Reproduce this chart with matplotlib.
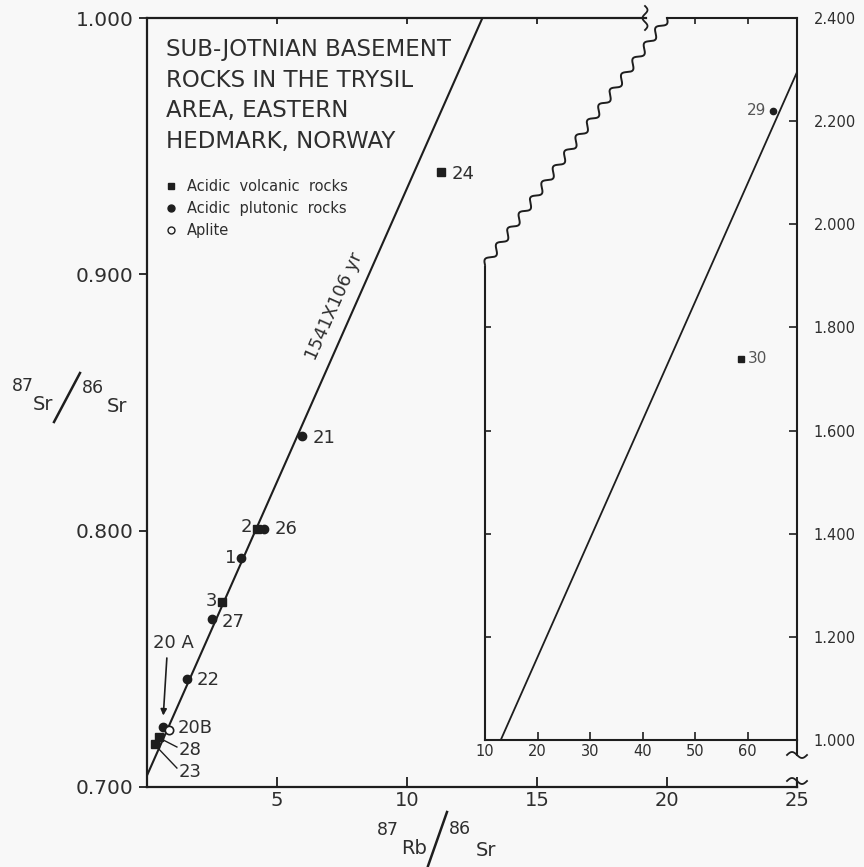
import numpy as np
import matplotlib.pyplot as plt
from matplotlib.lines import Line2D

plt.rcParams['font.family'] = ['DejaVu Sans']

# sample data (87Rb/86Sr, 87Sr/86Sr)
volc_id = ['24', '2', '3', '28', '23']
volc_x = [11.31, 4.23, 2.88, 0.46, 0.31]
volc_y = [0.940, 0.8008, 0.772, 0.7195, 0.7167]

plut_id = ['21', '26', '1', '27', '22', '20A']
plut_x = [5.96, 4.50, 3.62, 2.50, 1.54, 0.62]
plut_y = [0.837, 0.8008, 0.7895, 0.7654, 0.742, 0.7233]

aplite_id = ['20B']
aplite_x = [0.85]
aplite_y = [0.7222]

# high Rb/Sr samples shown in the inset
inset_plut_x = [64.9]
inset_plut_y = [2.220]
inset_volc_x = [58.8]
inset_volc_y = [1.739]

# isochron endpoints
iso_x = [0.0, 12.9]
iso_y = [0.7045, 1.0]
iso_in_x = [13.0, 69.4]
iso_in_y = [1.0, 2.295]

main_xticks = [5, 10, 15, 20, 25]
main_yticks = [0.700, 0.800, 0.900, 1.000]
inset_xticks = [10, 20, 30, 40, 50, 60]
inset_yticks = [1.0, 1.2, 1.4, 1.6, 1.8, 2.0, 2.2, 2.4]

title = "SUB-JOTNIAN BASEMENT\nROCKS IN THE TRYSIL\nAREA, EASTERN\nHEDMARK, NORWAY"

ink = '#1e1e1e'
txt = '#2e2e2e'
W, H = 864, 867

fig = plt.figure(figsize=(W / 100, H / 100), dpi=100, facecolor='#f8f8f8')

# full-figure pixel canvas for decorations
deco = fig.add_axes([0, 0, 1, 1], zorder=0)
deco.set_xlim(0, W)
deco.set_ylim(H, 0)
deco.axis('off')

L, R, T, B = 147, 797, 18, 787
ax = fig.add_axes([L / W, 1 - B / H, (R - L) / W, (B - T) / H], zorder=1)
ax.patch.set_alpha(0)
ax.set_xlim(0, 25)
ax.set_ylim(0.7, 1.0)
ax.set_xticks(main_xticks)
ax.set_xticklabels([str(v) for v in main_xticks])
ax.set_yticks(main_yticks)
ax.set_yticklabels(['%.3f' % v for v in main_yticks])
ax.tick_params(axis='x', direction='in', length=7, width=1.3, labelsize=14,
               pad=3, color=ink, labelcolor=txt)
ax.tick_params(axis='y', direction='out', length=6, width=1.3, labelsize=14.5,
               pad=3.5, color=ink, labelcolor=txt)
for s in ['left', 'bottom', 'top']:
    ax.spines[s].set_linewidth(1.6)
    ax.spines[s].set_color(ink)
ax.spines['right'].set_visible(False)
ax.spines['top'].set_bounds(0, 19.2)
ax.vlines([5, 10, 15], 0.9975, 1.0, color=ink, lw=1.3)

ax.plot(iso_x, iso_y, color=ink, lw=1.5)
ax.plot(volc_x, volc_y, 's', color=ink, ms=6, ls='none')
ax.plot(plut_x, plut_y, 'o', color=ink, ms=6, ls='none')
ax.plot(aplite_x, aplite_y, 'o', mfc='white', mec=ink, mew=1.2, ms=6, ls='none')

labels = [('24', 11.73, 0.9393, 'left'), ('21', 6.38, 0.8362, 'left'),
          ('2', 4.04, 0.8016, 'right'), ('26', 4.92, 0.8008, 'left'),
          ('1', 3.42, 0.7895, 'right'), ('3', 2.69, 0.7724, 'right'),
          ('27', 2.88, 0.7642, 'left'), ('22', 1.92, 0.7416, 'left'),
          ('20B', 1.19, 0.723, 'left'), ('28', 1.23, 0.7144, 'left'),
          ('23', 1.23, 0.7058, 'left')]
for s, x, y, ha in labels:
    ax.text(x, y, s, ha=ha, va='center', fontsize=13, color=txt)
ax.text(1.0, 0.756, '20 A', ha='center', va='center', fontsize=13, color=txt)
ax.annotate('', xy=(0.62, 0.7268), xytext=(0.77, 0.7514),
            arrowprops=dict(arrowstyle='-|>', lw=1.2, color=ink, mutation_scale=9))
ax.plot([1.15, 0.50], [0.7156, 0.7190], color=ink, lw=1.0)
ax.plot([1.15, 0.42], [0.7074, 0.7152], color=ink, lw=1.0)

ax.text(7.2, 0.8876, '1541X106 yr', rotation=66, rotation_mode='anchor',
        ha='center', va='center', fontsize=13, color=txt)

deco.text(166, 38, title, ha='left', va='top', fontsize=16.5, color=txt,
          linespacing=1.42)

handles = [Line2D([], [], marker='s', ls='none', color=ink, ms=5),
           Line2D([], [], marker='o', ls='none', color=ink, ms=5),
           Line2D([], [], marker='o', ls='none', mfc='none', mec=ink, ms=5)]
ax.legend(handles, ['Acidic  volcanic  rocks', 'Acidic  plutonic  rocks', 'Aplite'],
          loc='upper left', bbox_to_anchor=(0.03, 0.791), frameon=False,
          fontsize=10.5, handlelength=0.6, handletextpad=0.8, labelspacing=0.5,
          borderaxespad=0, borderpad=0, labelcolor=txt)

# inset
IL, IT, IB = 485, 18, 740
ax_in = fig.add_axes([IL / W, 1 - IB / H, (R - IL) / W, (IB - IT) / H], zorder=2)
ax_in.patch.set_alpha(0)
ax_in.set_xlim(10, 69.4)
ax_in.set_ylim(1.0, 2.4)
ax_in.set_xticks(inset_xticks)
ax_in.set_yticks(inset_yticks)
ax_in.set_yticklabels(['%.3f' % v for v in inset_yticks])
ax_in.tick_params(axis='x', direction='in', length=6, width=1.2, labelsize=10.5,
                  pad=3, color=ink, labelcolor=txt)
ax_in.tick_params(axis='y', left=False, right=True, labelleft=False, labelright=True,
                  direction='in', length=6, width=1.2, labelsize=10.5, pad=12,
                  color=ink, labelcolor=txt)
for s in ax_in.spines:
    ax_in.spines[s].set_linewidth(1.5)
    ax_in.spines[s].set_color(ink)
ax_in.spines['left'].set_bounds(1.0, 1.917)
ax_in.spines['top'].set_bounds(44.7, 69.4)
ax_in.hlines([1.2, 1.4, 1.6, 1.8], 10, 11.1, color=ink, lw=1.2)
ax_in.vlines([50, 60], 2.388, 2.4, color=ink, lw=1.2)

ax_in.plot(iso_in_x, iso_in_y, color=ink, lw=1.3)
ax_in.plot(inset_plut_x, inset_plut_y, 'o', color=ink, ms=4.5)
ax_in.plot(inset_volc_x, inset_volc_y, 's', color=ink, ms=4.5)
ax_in.text(63.5, 2.22, '29', ha='right', va='center', fontsize=11, color='#555555')
ax_in.text(60.1, 1.739, '30', ha='left', va='center', fontsize=11, color='#555555')

# wavy break between inset left edge and top
p0 = np.array([485.0, 265.0])
p1 = np.array([667.0, 18.0])
t = np.linspace(0, 1, 600)
d = p1 - p0
n = np.array([d[1], -d[0]]) / np.hypot(*d)
wave = 3.5 * np.sin(2 * np.pi * 16 * t)
wx = p0[0] + t * d[0] + wave * n[0]
wy = p0[1] + t * d[1] + wave * n[1]
deco.plot(wx, wy, color=ink, lw=1.4)

# break on the main top axis
yy = np.linspace(6, 30, 100)
deco.plot(645 + 2.5 * np.sin(2 * np.pi * 1.5 * (yy - 6) / 24), yy, color=ink, lw=1.3)

# right axis break
deco.plot([R, R], [740, 755], color=ink, lw=1.5)
deco.plot([R, R], [781, B], color=ink, lw=1.6)
xx = np.linspace(R - 10, R + 10, 60)
deco.plot(xx, 755 - 3 * np.sin(2 * np.pi * (xx - R + 10) / 20), color=ink, lw=1.3)
deco.plot(xx, 781 - 3 * np.sin(2 * np.pi * (xx - R + 10) / 20), color=ink, lw=1.3)

# axis titles
deco.text(388, 830, '87', ha='center', va='center', fontsize=12.5, color=txt)
deco.text(414, 849, 'Rb', ha='center', va='center', fontsize=14, color=txt)
deco.plot([428, 447], [866, 812], color=ink, lw=1.8)
deco.text(460, 829, '86', ha='center', va='center', fontsize=12.5, color=txt)
deco.text(486, 850, 'Sr', ha='center', va='center', fontsize=14, color=txt)

deco.text(23, 386, '87', ha='center', va='center', fontsize=12.5, color=txt)
deco.text(43, 405, 'Sr', ha='center', va='center', fontsize=14, color=txt)
deco.plot([54, 80], [422, 373], color=ink, lw=1.8)
deco.text(93, 388, '86', ha='center', va='center', fontsize=12.5, color=txt)
deco.text(117, 406, 'Sr', ha='center', va='center', fontsize=14, color=txt)

fig.savefig('out.png', dpi=100, facecolor=fig.get_facecolor())
